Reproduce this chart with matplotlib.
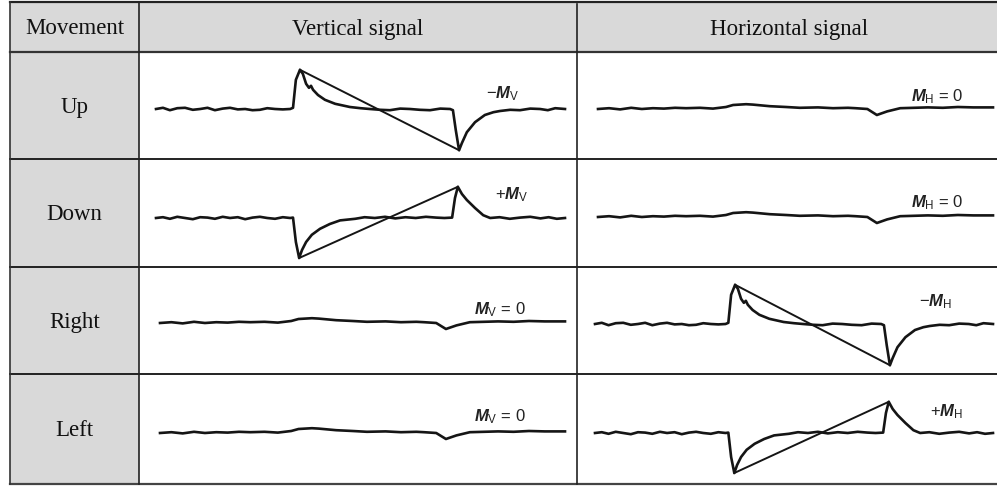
import matplotlib
matplotlib.use('Agg')
import matplotlib.pyplot as plt
from matplotlib.patches import Rectangle
import numpy as np

plt.rcParams['mathtext.fontset'] = 'custom'
plt.rcParams['mathtext.rm'] = 'Liberation Sans'
plt.rcParams['mathtext.it'] = 'Liberation Sans:italic:bold'
plt.rcParams['mathtext.bf'] = 'Liberation Sans:bold'

W, H = 997, 488

# ── Table text ──
headers = ['Movement', 'Vertical signal', 'Horizontal signal']
movements = ['Up', 'Down', 'Right', 'Left']
labels_v = [r'$-\mathit{M}_{\mathrm{V}}$', r'$+\mathit{M}_{\mathrm{V}}$',
            r'$\mathit{M}_{\mathrm{V}}$ = 0', r'$\mathit{M}_{\mathrm{V}}$ = 0']
labels_h = [r'$\mathit{M}_{\mathrm{H}}$ = 0', r'$\mathit{M}_{\mathrm{H}}$ = 0',
            r'$-\mathit{M}_{\mathrm{H}}$', r'$+\mathit{M}_{\mathrm{H}}$']

# ── Waveforms (normalised time 0..1, amplitude: spike = +/-1) ──
# positive spike first, then negative spike (Up / Right)
pulse_pos_t = [0.000, 0.017, 0.034, 0.052, 0.071, 0.090, 0.108, 0.126, 0.144, 0.163,
               0.181, 0.200, 0.218, 0.236, 0.254, 0.272, 0.291, 0.310, 0.328, 0.335,
               0.342, 0.352, 0.359, 0.367, 0.374, 0.379, 0.384, 0.396, 0.413, 0.438,
               0.474, 0.500, 0.523, 0.548, 0.572, 0.597, 0.621, 0.645, 0.670, 0.695,
               0.719, 0.726, 0.733, 0.741, 0.748, 0.760, 0.780, 0.804, 0.825, 0.841,
               0.866, 0.890, 0.915, 0.939, 0.958, 0.976, 1.000]
pulse_pos_y = [0.00, 0.03, -0.03, 0.02, 0.03, -0.02, 0.00, 0.03, -0.03, 0.01,
               0.03, -0.01, 0.00, -0.03, -0.02, 0.02, 0.00, -0.01, 0.00, 0.03,
               0.73, 0.98, 0.88, 0.63, 0.53, 0.58, 0.48, 0.35, 0.23, 0.13,
               0.05, 0.02, 0.00, -0.02, -0.03, 0.01, 0.00, -0.02, -0.03, 0.01,
               0.00, -0.03, -0.53, -1.03, -0.85, -0.58, -0.33, -0.15, -0.08, -0.05,
               -0.02, -0.03, 0.01, 0.00, -0.03, 0.02, 0.00]

# negative spike first, then positive spike (Down / Left)
pulse_neg_t = [0.000, 0.017, 0.034, 0.052, 0.071, 0.090, 0.108, 0.126, 0.144, 0.163,
               0.181, 0.200, 0.218, 0.236, 0.254, 0.272, 0.291, 0.310, 0.328, 0.335,
               0.342, 0.350, 0.357, 0.367, 0.381, 0.401, 0.425, 0.450, 0.487, 0.510,
               0.535, 0.560, 0.585, 0.610, 0.635, 0.660, 0.685, 0.705, 0.724, 0.731,
               0.738, 0.748, 0.760, 0.780, 0.800, 0.817, 0.840, 0.865, 0.890, 0.915,
               0.940, 0.960, 0.980, 1.000]
pulse_neg_y = [0.00, 0.02, -0.02, 0.03, 0.00, -0.03, 0.02, 0.01, -0.02, 0.03,
               0.00, 0.02, -0.03, 0.01, 0.03, 0.00, -0.02, 0.02, 0.00, 0.01,
               -0.60, -1.00, -0.80, -0.60, -0.42, -0.27, -0.15, -0.06, -0.02, 0.02,
               0.00, 0.03, -0.01, 0.02, 0.00, 0.03, 0.01, 0.00, 0.01, 0.50,
               0.78, 0.60, 0.45, 0.25, 0.07, 0.00, 0.02, -0.02, 0.01, 0.03,
               -0.01, 0.02, -0.02, 0.00]

# no movement on this axis: small bump and dip only
flat_t = [0.000, 0.028, 0.056, 0.084, 0.111, 0.139, 0.167, 0.195, 0.223, 0.258,
          0.291, 0.324, 0.342, 0.375, 0.392, 0.435, 0.476, 0.511, 0.557, 0.595,
          0.633, 0.652, 0.682, 0.706, 0.732, 0.765, 0.800, 0.835, 0.873, 0.911,
          0.950, 1.000]
flat_y = [0.00, 0.02, -0.01, 0.03, 0.00, 0.02, 0.01, 0.03, 0.02, 0.03,
          0.01, 0.05, 0.10, 0.12, 0.11, 0.07, 0.05, 0.03, 0.04, 0.02,
          0.03, 0.02, 0.00, -0.15, -0.06, 0.02, 0.03, 0.04, 0.03, 0.05,
          0.04, 0.04]

waves = {
    ('Up', 'V'): (pulse_pos_t, pulse_pos_y), ('Up', 'H'): (flat_t, flat_y),
    ('Down', 'V'): (pulse_neg_t, pulse_neg_y), ('Down', 'H'): (flat_t, flat_y),
    ('Right', 'V'): (flat_t, flat_y), ('Right', 'H'): (pulse_pos_t, pulse_pos_y),
    ('Left', 'V'): (flat_t, flat_y), ('Left', 'H'): (pulse_neg_t, pulse_neg_y),
}

# ── Layout (pixels) ──
col_x = [10, 139, 577, 997]
row_y = [2, 52, 159, 267, 374, 484]
trace_x = {'V': [(156, 565), (156, 565), (160, 565), (160, 565)],
           'H': [(598, 993), (598, 993), (595, 993), (595, 993)]}
base_y = {'V': [109, 218, 323, 433], 'H': [109, 217, 324, 433]}
label_xy = {'V': [(503, 94), (512, 195), (500, 310), (500, 417)],
            'H': [(937, 97), (937, 203), (936, 302), (947, 412)]}
AMP = 40  # pixels per unit amplitude

fig = plt.figure(figsize=(W / 100, H / 100), dpi=100)
bg = fig.add_axes([0, 0, 1, 1])
bg.set_xlim(0, W)
bg.set_ylim(H, 0)
bg.axis('off')

gray = '#d9d9d9'
bg.add_patch(Rectangle((col_x[0], row_y[0]), W - col_x[0], row_y[1] - row_y[0], color=gray, lw=0))
bg.add_patch(Rectangle((col_x[0], row_y[1]), col_x[1] - col_x[0], row_y[-1] - row_y[1], color=gray, lw=0))

# grid lines
bg.plot([col_x[0], W], [row_y[0], row_y[0]], color='#222', lw=1.6)
bg.plot([col_x[0], W], [row_y[1], row_y[1]], color='#333', lw=1.6)
for y in row_y[2:-1]:
    bg.plot([col_x[0], W], [y, y], color='#222', lw=1.4)
bg.plot([col_x[0], W], [row_y[-1], row_y[-1]], color='#444', lw=1.6)
bg.plot([col_x[0], col_x[0]], [row_y[0], row_y[-1]], color='#333', lw=1.2)
bg.plot([col_x[1], col_x[1]], [row_y[0], row_y[-1]], color='#222', lw=1.2)
bg.plot([col_x[2], col_x[2]], [row_y[0] + 2, row_y[-1]], color='#222', lw=1.2)

serif = 'Liberation Serif'
for i, h in enumerate(headers):
    bg.text((col_x[i] + col_x[i + 1]) / 2 + (2 if i == 2 else 0), (row_y[0] + row_y[1]) / 2 + 2, h,
            ha='center', va='center', fontsize=16.5, family=serif, color='#111')
for r, m in enumerate(movements):
    bg.text((col_x[0] + col_x[1]) / 2, (row_y[r + 1] + row_y[r + 2]) / 2 + 2, m,
            ha='center', va='center', fontsize=16.5, family=serif, color='#111')

# signal traces
for r, m in enumerate(movements):
    for key, labels in (('V', labels_v), ('H', labels_h)):
        x0, x1 = trace_x[key][r]
        by = base_y[key][r]
        ax = fig.add_axes([x0 / W, (H - by - 1.5 * AMP) / H, (x1 - x0) / W, 3 * AMP / H])
        ax.set_xlim(0, 1)
        ax.set_ylim(-1.5, 1.5)
        ax.axis('off')
        t, y = waves[(m, key)]
        t = np.array(t)
        y = np.array(y)
        ax.plot(t, y, color='#151515', lw=1.9, solid_joinstyle='round', clip_on=False)
        if y.max() > 0.5:
            i_hi, i_lo = np.argmax(y), np.argmin(y)
            ax.plot([t[i_hi], t[i_lo]], [y[i_hi], y[i_lo]], color='#151515', lw=1.4, clip_on=False)
        lx, ly = label_xy[key][r]
        bg.text(lx, ly, labels[r], ha='center', va='center', fontsize=12,
                family='Liberation Sans', color='#222')

fig.savefig('out.png', dpi=100)
